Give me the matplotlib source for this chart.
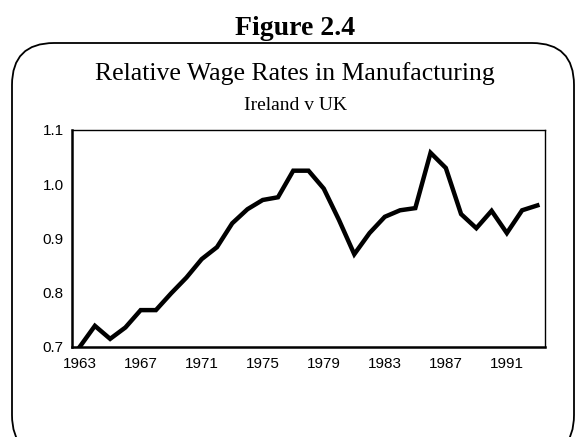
import matplotlib
matplotlib.use("Agg")
import matplotlib.pyplot as plt
from matplotlib.patches import FancyBboxPatch
from matplotlib.transforms import IdentityTransform

years = list(range(1963, 1994))
relative_wage = [0.700, 0.739, 0.715, 0.736, 0.768, 0.768, 0.799, 0.828, 0.862, 0.884,
                 0.928, 0.954, 0.971, 0.976, 1.025, 1.025, 0.992, 0.934, 0.871, 0.910,
                 0.940, 0.952, 0.956, 1.058, 1.030, 0.945, 0.919, 0.951, 0.910, 0.952,
                 0.961]
xtick_labels = ["1963", "1967", "1971", "1975", "1979", "1983", "1987", "1991"]
ytick_values = [0.7, 0.8, 0.9, 1.0, 1.1]

W, H = 576, 437
fig = plt.figure(figsize=(W / 100, H / 100), dpi=100)

# rounded frame (pixel coordinates)
frame = FancyBboxPatch((12, -20), 562, 437 - 43 + 20,
                       boxstyle="round,pad=0,rounding_size=42",
                       transform=IdentityTransform(), facecolor="none",
                       edgecolor="black", linewidth=1.3)
fig.patches.append(frame)

cx = 295 / W
fig.text(cx, 1 - 35 / H, "Figure 2.4", ha="center", va="baseline",
         fontfamily="Liberation Serif", fontweight="bold", fontsize=20)
fig.text(cx, 1 - 80 / H, "Relative Wage Rates in Manufacturing", ha="center",
         va="baseline", fontfamily="Liberation Serif", fontsize=18.5)
fig.text(cx, 1 - 110 / H, "Ireland v UK", ha="center", va="baseline",
         fontfamily="Liberation Serif", fontsize=14)

ax = fig.add_axes([72 / W, 1 - 347 / H, (545 - 72) / W, (347 - 130) / H])
x = list(range(len(years)))
ax.plot(x, relative_wage, color="black", linewidth=3.2, solid_joinstyle="miter")
ax.set_xlim(-0.5, len(years) - 0.5)
ax.set_ylim(0.7, 1.1)
ax.set_xticks([years.index(int(t)) for t in xtick_labels])
ax.set_xticklabels(xtick_labels)
ax.set_yticks(ytick_values)
ax.set_yticklabels([f"{v:.1f}" for v in ytick_values])
ax.tick_params(axis="x", length=0, labelsize=11, pad=7)
ax.tick_params(axis="y", length=0, labelsize=11, pad=6)
for lab in ax.get_xticklabels() + ax.get_yticklabels():
    lab.set_fontfamily("Liberation Sans")
ax.spines["left"].set_linewidth(1.8)
ax.spines["bottom"].set_linewidth(1.8)
ax.spines["top"].set_linewidth(1.0)
ax.spines["right"].set_linewidth(1.0)

fig.savefig("out.png", dpi=100)
